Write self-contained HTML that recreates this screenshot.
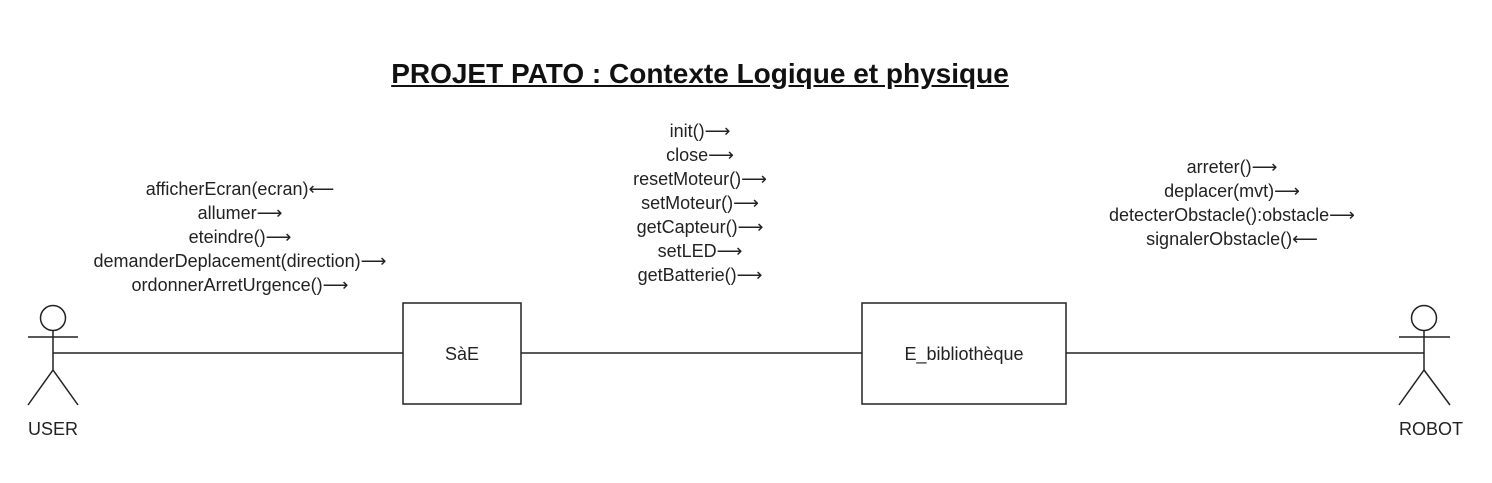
<!DOCTYPE html>
<html><head><meta charset="utf-8"><style>
body{margin:0;background:#fff;width:1492px;height:483px;overflow:hidden;position:relative;font-family:"Liberation Sans",Arial,sans-serif;color:#222}
.t{position:absolute;font-size:18px;line-height:24px;text-align:center;white-space:nowrap}
</style></head><body>
<div style="position:absolute;left:300px;width:800px;top:58px;text-align:center;font-size:28px;font-weight:bold;text-decoration:underline;color:#111">PROJET PATO : Contexte Logique et physique</div>
<div class="t" style="left:40px;width:400px;top:177px">afficherEcran(ecran)⟵<br>allumer⟶<br>eteindre()⟶<br>demanderDeplacement(direction)⟶<br>ordonnerArretUrgence()⟶</div>
<div class="t" style="left:500px;width:400px;top:119px">init()⟶<br>close⟶<br>resetMoteur()⟶<br>setMoteur()⟶<br>getCapteur()⟶<br>setLED⟶<br>getBatterie()⟶</div>
<div class="t" style="left:1032px;width:400px;top:155px">arreter()⟶<br>deplacer(mvt)⟶<br>detecterObstacle():obstacle⟶<br>signalerObstacle()⟵</div>
<svg width="1492" height="483" style="position:absolute;left:0;top:0" fill="none" stroke="#222" stroke-width="1.5">
<circle cx="53" cy="318" r="12.5"/>
<line x1="28" y1="337" x2="78" y2="337"/><line x1="53" y1="331" x2="53" y2="370"/>
<line x1="53" y1="370" x2="28" y2="405"/><line x1="53" y1="370" x2="78" y2="405"/>
<circle cx="1424" cy="318" r="12.5"/>
<line x1="1399" y1="337" x2="1450" y2="337"/><line x1="1424" y1="331" x2="1424" y2="370"/>
<line x1="1424" y1="370" x2="1399" y2="405"/><line x1="1424" y1="370" x2="1450" y2="405"/>
<line x1="53" y1="353" x2="403" y2="353"/>
<line x1="521" y1="353" x2="862" y2="353"/>
<line x1="1066" y1="353" x2="1424" y2="353"/>
<rect x="403" y="303" width="118" height="101"/>
<rect x="862" y="303" width="204" height="101"/>
<g fill="#222" stroke="none" font-family="Liberation Sans,Arial,sans-serif" font-size="18" text-anchor="middle">
<text x="462" y="360">SàE</text>
<text x="964" y="360">E_bibliothèque</text>
<text x="53" y="435">USER</text>
<text x="1431" y="435">ROBOT</text>
</g>
</svg>
</body></html>
